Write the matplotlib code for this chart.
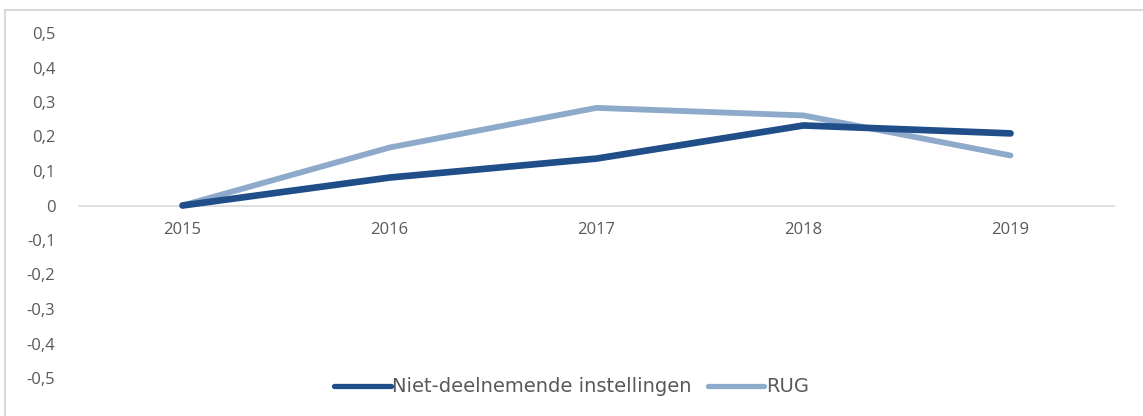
import matplotlib
matplotlib.use("Agg")
import matplotlib.pyplot as plt
from matplotlib.patches import Rectangle
from matplotlib.ticker import FixedLocator, FuncFormatter

years = ["2015", "2016", "2017", "2018", "2019"]
niet_deelnemend = [0.0, 0.081, 0.136, 0.232, 0.209]
rug = [0.0, 0.168, 0.283, 0.261, 0.145]
y_ticks = [-0.5, -0.4, -0.3, -0.2, -0.1, 0, 0.1, 0.2, 0.3, 0.4, 0.5]

W, H = 1143, 416
fig = plt.figure(figsize=(W / 100, H / 100), dpi=100)
fig.patch.set_facecolor("white")

# outer chart frame (cut off at right and bottom)
fig.patches.append(Rectangle((5 / W, -0.1), 1.2, 1.1 - 10 / H,
                             transform=fig.transFigure, fill=False,
                             edgecolor="#d9d9d9", linewidth=1.5, zorder=0))

ax = fig.add_axes([79 / W, 1 - 378 / H, (1114 - 79) / W, (378 - 33) / H])
x = list(range(len(years)))
dark = "#1f4e89"
light = "#8eaacb"
ax.plot(x, niet_deelnemend, color=dark, lw=4.8, solid_capstyle="round",
        solid_joinstyle="round", label="Niet-deelnemende instellingen", zorder=3)
ax.plot(x, rug, color=light, lw=4.2, solid_capstyle="round",
        solid_joinstyle="round", label="RUG", zorder=2)

ax.set_xlim(-0.5, len(years) - 0.5)
ax.set_ylim(-0.5, 0.5)
for s in ["top", "right", "left"]:
    ax.spines[s].set_visible(False)
ax.spines["bottom"].set_position(("data", 0))
ax.spines["bottom"].set_color("#d9d9d9")
ax.spines["bottom"].set_linewidth(1.2)
ax.set_xticks(x)
ax.set_xticklabels(years)
ax.yaxis.set_major_locator(FixedLocator(y_ticks))
ax.yaxis.set_major_formatter(FuncFormatter(
    lambda v, p: "0" if abs(v) < 1e-9 else f"{v:.1f}".replace(".", ",")))
ax.tick_params(axis="x", length=0, pad=12, labelsize=12, labelcolor="#595959")
ax.tick_params(axis="y", length=0, pad=17, labelsize=12, labelcolor="#595959")
for lab in ax.get_xticklabels() + ax.get_yticklabels():
    lab.set_family("Open Sans")

leg = fig.legend(loc="center", bbox_to_anchor=(0.5, 1 - 387 / H), ncol=2,
                 frameon=False, handlelength=2.9, handletextpad=0.1,
                 columnspacing=0.8, prop={"family": "DejaVu Sans", "size": 14})
for t in leg.get_texts():
    t.set_color("#595959")
for h in leg.legend_handles:
    h.set_linewidth(3.8)

fig.savefig("out.png", dpi=100)
